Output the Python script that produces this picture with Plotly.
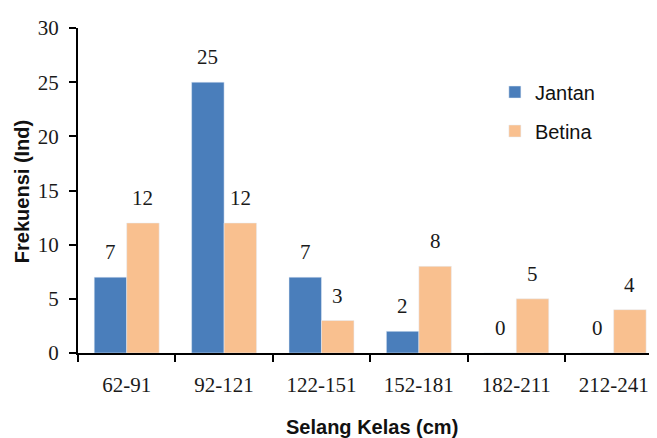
import plotly.graph_objects as go

categories = ["62-91", "92-121", "122-151", "152-181", "182-211", "212-241"]
jantan = [7, 25, 7, 2, 0, 0]
betina = [12, 12, 3, 8, 5, 4]
y_ticks = [0, 5, 10, 15, 20, 25, 30]

BLUE = "#4A7EBB"
ORANGE = "#F9C08F"
SERIF = "Liberation Serif, Times New Roman, serif"
SANS = "Liberation Sans, Arial, sans-serif"

fig = go.Figure()
fig.add_trace(go.Bar(x=categories, y=jantan, name="Jantan", marker_color=BLUE,
                     legendgroup="a"))
fig.add_trace(go.Bar(x=categories, y=betina, name="Betina", marker_color=ORANGE,
                     legendgroup="b"))

annotations = []
for vals, shift in ((jantan, -16.2), (betina, 16.2)):
    for c, v in zip(categories, vals):
        annotations.append(dict(x=c, y=v, xref="x", yref="y", text=str(v),
                                showarrow=False, yanchor="bottom", xanchor="center",
                                xshift=shift, yshift=11,
                                font=dict(family=SERIF, size=21, color="#1a1a1a")))

annotations.append(dict(text="<b>Frekuensi (Ind)</b>", xref="paper", yref="paper",
                        x=-0.0967, y=0.495, xanchor="center", yanchor="middle",
                        textangle=-90, showarrow=False,
                        font=dict(family=SANS, size=20, color="#111")))
annotations.append(dict(text="<b>Selang Kelas (cm)</b>", xref="paper", yref="paper",
                        x=0.508, y=-0.229, xanchor="center", yanchor="middle",
                        showarrow=False,
                        font=dict(family=SANS, size=20, color="#111")))

fig.update_layout(
    width=657, height=438,
    margin=dict(l=70, r=8, t=18, b=93),
    paper_bgcolor="white", plot_bgcolor="white",
    barmode="group", bargap=0.333, bargroupgap=0,
    showlegend=True,
    legend=dict(x=0.72, y=0.863, xanchor="left", yanchor="top",
                font=dict(family=SANS, size=20, color="#111"),
                tracegroupgap=10, bgcolor="rgba(0,0,0,0)"),
    annotations=annotations,
    xaxis=dict(type="category", range=[-0.5, 5.445], showline=True, linecolor="black",
               linewidth=2, ticks="outside", tickson="boundaries", ticklen=7,
               tickwidth=2, tickcolor="black", showgrid=False, ticklabelstandoff=12,
               tickfont=dict(family=SERIF, size=21, color="#1a1a1a")),
    yaxis=dict(range=[0, 30], tickvals=y_ticks, showline=True, linecolor="black",
               linewidth=2, ticks="outside", ticklen=7, tickwidth=2, tickcolor="black",
               showgrid=False, zeroline=False, ticklabelstandoff=6,
               tickfont=dict(family=SERIF, size=21, color="#1a1a1a")),
)

fig.write_html("out.html")
